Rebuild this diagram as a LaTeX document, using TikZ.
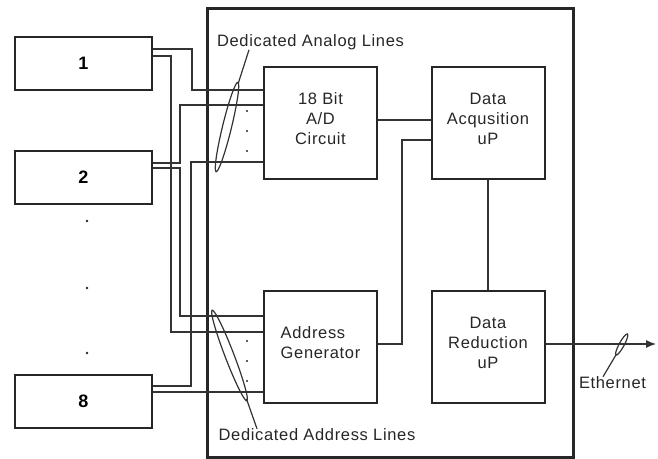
\documentclass[tikz,border=0pt]{standalone}
\usepackage{fontspec}
\setmainfont{Liberation Sans}[LetterSpace=4]
\usepackage{tikz}
\usetikzlibrary{arrows.meta}
\usetikzlibrary{positioning}

\tikzset{
  frame/.style={draw=black!85, line width=3pt, minimum width=366pt, minimum height=449pt, inner sep=0pt},
  src/.style={draw=black!85, line width=2pt, minimum width=137pt, minimum height=53pt, inner sep=0pt,
    font=\fontsize{18}{20}\selectfont\bfseries},
  unit/.style={draw=black!85, line width=2pt, minimum width=113pt, minimum height=112pt, inner sep=0pt},
  boxtext/.style={font=\fontsize{16.5}{20}\selectfont, text=black!85, yshift=4pt},
  note/.style={font=\fontsize{16.5}{20}\selectfont, text=black!85, inner sep=0pt},
  wire/.style={draw=black!80, line width=1.2pt},
  ring/.style={draw=black!80, line width=1.2pt},
}

\begin{document}
\begin{tikzpicture}[x=1pt,y=-1pt]
\useasboundingbox (0,0) rectangle (658,458);
\node[frame] (sys) at (390,232.5) {};
\node[src] (s1) at (83.5,63.5) {1};
\node[src] (s2) at (83.5,177) {2};
\node[src] (s8) at (83.5,401.5) {8};
\foreach \y in {221,288,353} \fill[black!85] (87,\y) circle (1.4pt);
\node[unit, label={[boxtext,align=center]center:{18 Bit\\A/D\\Circuit}}] (ad) at (320.5,123) {};
\node[unit, label={[boxtext,align=center]center:{Data\\Acqusition\\uP}}] (acq) at (488,123) {};
\node[unit, label={[boxtext,align=left]center:{Address\\Generator}}] (addr) at (320.5,347) {};
\node[unit, label={[boxtext,align=center]center:{Data\\Reduction\\uP}}] (red) at (488,347) {};
\draw[wire] (s1.east |- 0,49) -| (192,90) -- (ad.west |- 0,90);
\draw[wire] (s1.east |- 0,56) -| (171,332) -- (addr.west |- 0,332);
\draw[wire] (s2.east |- 0,163) -| (180,105) -- (ad.west |- 0,105);
\draw[wire] (s2.east |- 0,168) -| (180,316) -- (addr.west |- 0,316);
\draw[wire] (s8.east |- 0,386) -| (191,162) -- (ad.west |- 0,162);
\draw[wire] (s8.east |- 0,392) -- (addr.west |- 0,392);
\foreach \y in {111,131,151,341,361,381} \fill[black!85] (247,\y) circle (1.2pt);
\draw[wire] (ad.east |- 0,120) -- (acq.west |- 0,120);
\draw[wire] (addr.east |- 0,344) -| (402,140) -- (acq.west |- 0,140);
\draw[wire] (acq.south) -- (red.north);
\coordinate (net) at (656,344);
\draw[wire, -{Latex[length=10pt,width=8pt]}] (red.east |- net) -- (net);
\node[note] (alines) at (310.5,42) {Dedicated Analog Lines};
\node[note] (blines) at (317,435) {Dedicated Address Lines};
\node[note] (eth) at (612.5,383) {Ethernet};
\draw[ring, rotate around={76.3:(227,127)}] (227,127) ellipse [x radius=46pt, y radius=4.5pt];
\draw[ring, rotate around={111:(229.5,355.5)}] (229.5,355.5) ellipse [x radius=48.5pt, y radius=4.5pt];
\draw[ring, rotate around={61.5:(621.7,344.5)}] (621.7,344.5) ellipse [x radius=12pt, y radius=2.5pt];
\coordinate (atip) at (238,84);
\coordinate (btip) at (246.5,399);
\coordinate (etip) at (616.5,354);
\draw[ring] (atip) -- (alines.south -| 249,0);
\draw[ring] (btip) -- (blines.north -| 257,0);
\draw[ring] (etip) -- (eth.north -| 603,0);
\end{tikzpicture}
\end{document}
